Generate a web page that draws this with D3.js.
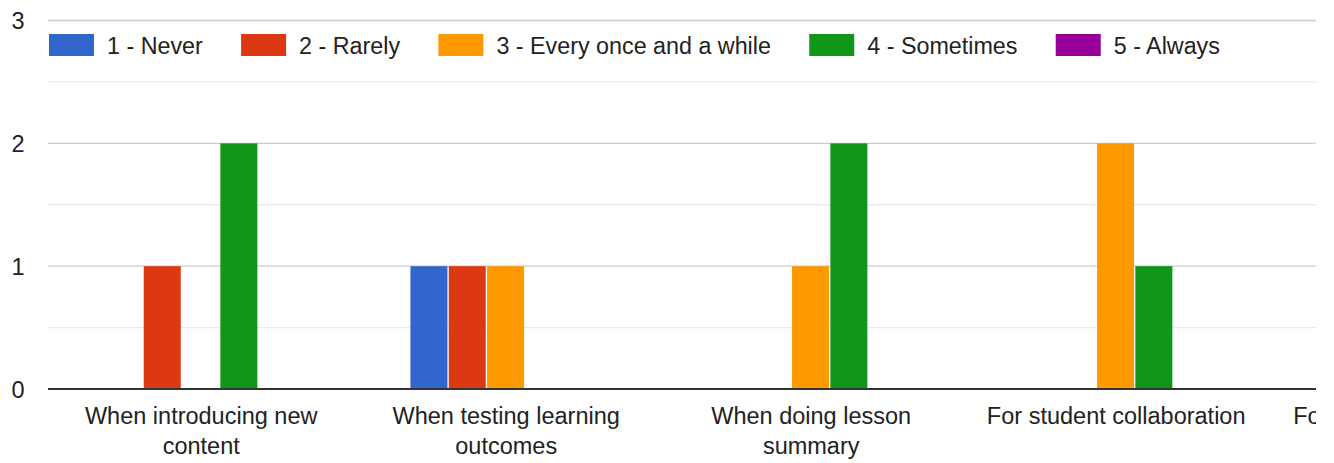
<!DOCTYPE html>
<html>
<head>
<meta charset="utf-8">
<script src="https://cdn.jsdelivr.net/npm/d3@7"></script>
<style>
  html, body { margin: 0; padding: 0; background: #fff; }
  svg { display: block; }
  text { font-family: "Liberation Sans", Arial, Helvetica, sans-serif; fill: #222; }
</style>
</head>
<body>
<svg id="chart" width="1334" height="463"></svg>
<script>
// Survey question rows (the last one runs past the right edge of the view)
const categories = [
  "When introducing new content",
  "When testing learning outcomes",
  "When doing lesson summary",
  "For student collaboration",
  "For student engagement"
];

// Answer options, in legend order
const seriesNames = ["1 - Never", "2 - Rarely", "3 - Every once and a while", "4 - Sometimes", "5 - Always"];
const seriesColors = ["#3366cc", "#dc3912", "#ff9900", "#109618", "#990099"];

// Response counts per row, one array per answer option
const never     = [0, 1, 0, 0, null];
const rarely    = [1, 1, 0, 0, null];
const onceWhile = [0, 1, 1, 2, null];
const sometimes = [2, 0, 2, 1, null];
const always    = [0, 0, 0, 0, null];
const seriesValues = [never, rarely, onceWhile, sometimes, always];

const yTicks = [0, 1, 2, 3];
const yMinorTicks = [0.5, 1.5, 2.5];

const svg = d3.select("#chart");
const W = 1334, H = 463;
const left = 48.7, step = 305, visibleRight = 1316;
const fontSize = 23.5;
const legendFontSize = 23.3;

svg.append("defs").append("clipPath").attr("id", "view")
  .append("rect").attr("x", 0).attr("y", 0).attr("width", visibleRight).attr("height", H);

const root = svg.append("g").attr("clip-path", "url(#view)");

const x0 = d3.scaleBand()
  .domain(categories)
  .range([left, left + step * categories.length])
  .paddingInner(0.372)
  .paddingOuter(0.186);

const x1 = d3.scaleBand()
  .domain(seriesNames)
  .range([0, x0.bandwidth()]);

const y = d3.scaleLinear().domain([0, 3]).range([389, 20.5]);

const plotLeft = 48;
const plotRight = left + step * categories.length;

// Minor gridlines
root.append("g").selectAll("line").data(yMinorTicks).join("line")
  .attr("x1", plotLeft).attr("x2", plotRight)
  .attr("y1", d => y(d)).attr("y2", d => y(d))
  .attr("stroke", "#ebebeb").attr("stroke-width", 1.3);

// Major gridlines
root.append("g").selectAll("line").data(yTicks.filter(t => t > 0)).join("line")
  .attr("x1", plotLeft).attr("x2", plotRight)
  .attr("y1", d => y(d)).attr("y2", d => y(d))
  .attr("stroke", "#cccccc").attr("stroke-width", 1.3);

// Y axis labels
const yAxis = d3.axisLeft(y).tickValues(yTicks).tickSize(0).tickPadding(0).tickFormat(d3.format("d"));
const yg = svg.append("g").attr("transform", "translate(24.5,0)").call(yAxis);
yg.select(".domain").remove();
yg.selectAll("text")
  .attr("font-size", fontSize)
  .attr("font-family", null)
  .attr("dy", "0.35em")
  .style("fill", "#222");

// Bars
const barData = [];
categories.forEach((c, ci) => {
  seriesNames.forEach((s, si) => {
    const v = seriesValues[si][ci];
    if (v != null && v > 0) barData.push({ c, s, v, color: seriesColors[si] });
  });
});

root.append("g").selectAll("rect").data(barData).join("rect")
  .attr("x", d => x0(d.c) + x1(d.s))
  .attr("width", x1.bandwidth() - 1.3)
  .attr("y", d => y(d.v))
  .attr("height", d => y(0) - y(d.v) - 1)
  .attr("fill", d => d.color);

// Baseline
root.append("line")
  .attr("x1", plotLeft).attr("x2", plotRight)
  .attr("y1", y(0)).attr("y2", y(0))
  .attr("stroke", "#333333").attr("stroke-width", 2);

// Category labels, wrapped to two lines when too wide
const maxLabelWidth = 280;
const xLabels = root.append("g");
categories.forEach(c => {
  const cx = x0(c) + x0.bandwidth() / 2;
  const t = xLabels.append("text")
    .attr("x", cx).attr("y", 424)
    .attr("text-anchor", "middle")
    .attr("font-size", fontSize);
  const words = c.split(" ");
  let lines = [], line = [];
  const probe = t.append("tspan");
  words.forEach(w => {
    const trial = line.concat([w]).join(" ");
    probe.text(trial);
    if (probe.node().getComputedTextLength() > maxLabelWidth && line.length) {
      lines.push(line.join(" "));
      line = [w];
    } else {
      line.push(w);
    }
  });
  lines.push(line.join(" "));
  probe.remove();
  lines.forEach((l, i) => {
    t.append("tspan").attr("x", cx).attr("dy", i === 0 ? 0 : 30).text(l);
  });
});

// Legend
const legend = svg.append("g");
let lx = 49;
seriesNames.forEach((s, i) => {
  legend.append("rect")
    .attr("x", lx).attr("y", 34)
    .attr("width", 45).attr("height", 22)
    .attr("fill", seriesColors[i]);
  const t = legend.append("text")
    .attr("x", lx + 58).attr("y", 54)
    .attr("font-size", legendFontSize)
    .text(s);
  lx += 58 + t.node().getComputedTextLength() + 38.3;
});
</script>
</body>
</html>
